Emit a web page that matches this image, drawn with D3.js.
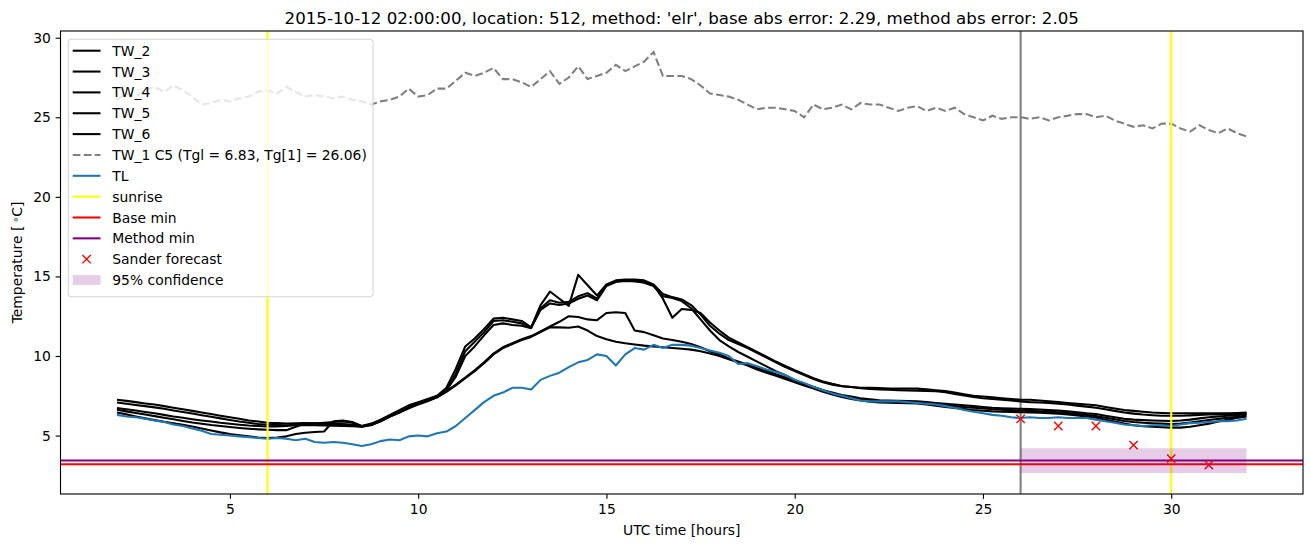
<!DOCTYPE html>
<html><head><meta charset="utf-8">
<script src="https://cdn.jsdelivr.net/npm/d3@7"></script>
<style>body{margin:0;background:#fff}svg{display:block}text{font-family:"DejaVu Sans",sans-serif;fill:#000}</style>
</head><body><svg id="c" width="1310" height="547"></svg>
<script>
// ---- data ----
const hours = d3.range(0, 121).map(i => 2 + i * 0.25); // sample times [h]
const TW_2 = [7.25,7.18,7.1,7.02,6.95,6.85,6.75,6.65, 6.55,6.45,6.35,6.25,6.15,6.05,5.95,5.88,
 5.8,5.78,5.76,5.77,5.78,5.77,5.75,5.74, 5.72,5.68,5.6,5.75,6.0,6.3,6.6,6.9,
 7.1,7.3,7.5,8.0,9.2,10.6,11.1,11.7, 12.35,12.4,12.3,12.2,11.8,13.2,14.05,13.6,
 13.15,15.1,14.45,13.8,14.5,14.75,14.8,14.8, 14.75,14.5,13.9,13.7,13.55,13.2,12.6,11.9,
 11.4,11.0,10.75,10.5,10.2,9.9,9.6,9.3, 9.05,8.8,8.55,8.35,8.2,8.1,8.05,8.0,
 8.0,7.98,7.95,7.95,7.95,7.95,7.9,7.85, 7.8,7.7,7.6,7.5,7.45,7.4,7.35,7.3,
 7.25,7.25,7.2,7.15,7.1,7.05,7.0,6.95, 6.9,6.8,6.7,6.6,6.55,6.5,6.45,6.42,
 6.4,6.4,6.4,6.4,6.4,6.4,6.4,6.42, 6.45];
const TW_3 = [7.08,7.0,6.92,6.85,6.77,6.68,6.58,6.48, 6.38,6.28,6.18,6.08,5.98,5.88,5.8,5.73,
 5.68,5.66,5.65,5.68,5.72,5.76,5.8,5.85, 5.88,5.8,5.58,5.7,5.95,6.25,6.55,6.85,
 7.05,7.25,7.45,7.85,8.7,10.0,10.6,11.3, 11.95,12.05,11.95,11.9,11.75,12.9,13.3,13.2,
 13.3,13.6,13.8,13.5,14.4,14.65,14.75,14.7, 14.65,14.45,13.6,12.4,12.95,12.9,12.7,12.1,
 11.6,11.15,10.85,10.55,10.25,9.95,9.65,9.38, 9.1,8.85,8.6,8.4,8.25,8.12,8.05,7.97,
 7.93,7.9,7.88,7.85,7.83,7.82,7.8,7.78, 7.72,7.62,7.52,7.42,7.35,7.3,7.25,7.2,
 7.15,7.1,7.08,7.05,7.0,6.95,6.88,6.82, 6.75,6.65,6.55,6.45,6.38,6.32,6.28,6.25,
 6.25,6.25,6.27,6.3,6.32,6.33,6.35,6.35, 6.38];
const TW_4 = [6.73,6.65,6.57,6.48,6.4,6.3,6.2,6.12, 6.03,5.95,5.88,5.8,5.74,5.68,5.63,5.6,
 5.57,5.57,5.6,5.65,5.66,5.65,5.64,5.62, 5.6,5.58,5.55,5.65,5.9,6.2,6.45,6.75,
 7.0,7.2,7.4,7.8,8.9,10.3,10.9,11.5, 12.2,12.25,12.15,12.05,11.8,13.0,13.5,13.35,
 13.4,13.75,13.95,13.6,14.45,14.7,14.72,14.7, 14.6,14.4,13.75,13.65,13.45,13.0,12.3,11.6,
 11.0,10.6,10.25,9.95,9.65,9.35,9.05,8.8, 8.5,8.25,8.05,7.85,7.7,7.55,7.45,7.35,
 7.28,7.22,7.2,7.18,7.17,7.15,7.1,7.05, 7.0,6.95,6.9,6.85,6.8,6.75,6.72,6.7,
 6.68,6.66,6.64,6.6,6.57,6.52,6.47,6.4, 6.35,6.25,6.15,6.05,6.0,5.97,5.95,5.93,
 5.92,5.95,6.0,6.08,6.15,6.2,6.25,6.28, 6.35];
const TW_5 = [6.62,6.52,6.42,6.32,6.22,6.12,6.02,5.92, 5.82,5.74,5.66,5.6,5.54,5.48,5.43,5.39,
 5.36,5.34,5.34,5.55,5.75,5.75,5.74,5.72, 5.7,5.65,5.55,5.7,5.95,6.25,6.5,6.8,
 7.0,7.2,7.45,7.8,8.2,8.65,9.1,9.6, 10.15,10.55,10.8,11.05,11.25,11.55,11.85,12.15,
 12.5,12.45,12.3,12.25,12.7,12.75,12.7,11.6, 11.5,11.3,11.1,11.0,10.9,10.75,10.55,10.3,
 10.1,9.85,9.65,9.45,9.25,9.05,8.85,8.65, 8.45,8.25,8.05,7.85,7.65,7.5,7.38,7.28,
 7.2,7.15,7.12,7.1,7.08,7.05,7.0,6.95, 6.9,6.85,6.8,6.75,6.7,6.65,6.62,6.6,
 6.57,6.55,6.53,6.5,6.47,6.42,6.36,6.3, 6.22,6.12,6.02,5.92,5.85,5.8,5.77,5.75,
 5.72,5.75,5.82,5.9,5.98,6.05,6.12,6.18, 6.25];
const TW_6 = [6.45,6.33,6.2,6.08,5.97,5.87,5.77,5.67, 5.57,5.45,5.32,5.2,5.1,5.02,4.95,4.88,
 4.84,4.88,4.95,5.1,5.18,5.22,5.26,5.9, 5.95,5.85,5.6,5.68,5.9,6.2,6.45,6.72,
 6.95,7.15,7.4,7.75,8.15,8.6,9.05,9.55, 10.1,10.5,10.75,11.0,11.2,11.5,11.8,11.8,
 11.78,11.85,11.6,11.25,11.05,10.9,10.8,10.72, 10.65,10.6,10.55,10.5,10.45,10.4,10.3,10.15,
 10.0,9.8,9.6,9.4,9.15,8.95,8.75,8.55, 8.35,8.15,7.95,7.75,7.58,7.43,7.3,7.2,
 7.12,7.08,7.06,7.05,7.04,7.02,6.95,6.88, 6.8,6.73,6.66,6.6,6.56,6.52,6.5,6.48,
 6.47,6.45,6.43,6.4,6.37,6.33,6.27,6.2, 6.12,6.0,5.88,5.75,5.65,5.58,5.55,5.52,
 5.5,5.5,5.55,5.65,5.75,5.88,6.0,6.1, 6.2];
const TW_1 = [26.1,26.5,26.3,26.7,26.9,26.6,27.0,26.7, 26.3,25.8,25.9,26.1,26.0,26.2,26.3,26.6,
 26.7,26.5,26.9,26.6,26.3,26.4,26.3,26.2, 26.3,26.1,26.0,25.8,26.0,26.1,26.3,26.8,
 26.3,26.4,26.8,26.8,27.3,27.8,27.6,27.8, 28.1,27.4,27.4,27.2,26.9,27.4,27.9,27.1,
 27.5,28.2,27.4,27.6,27.8,28.3,27.9,28.2, 28.5,29.1,27.6,27.6,27.6,27.4,27.0,26.5,
 26.4,26.3,26.1,25.8,25.5,25.6,25.6,25.5, 25.4,25.0,25.8,25.5,25.6,25.8,25.5,25.9,
 25.8,25.8,25.6,25.4,25.6,25.7,25.4,25.6, 25.4,25.6,25.2,25.0,24.8,25.1,24.9,25.0,
 25.0,24.9,25.0,24.8,25.0,25.1,25.2,25.2, 25.0,25.1,24.8,24.6,24.4,24.5,24.3,24.6,
 24.6,24.3,24.1,24.5,24.2,24.0,24.3,24.0, 23.8];
const TL = [6.3,6.2,6.15,6.05,5.95,5.85,5.7,5.6, 5.45,5.3,5.1,5.05,5.0,4.95,4.9,4.85,
 4.8,4.85,4.8,4.7,4.8,4.6,4.55,4.6, 4.55,4.45,4.35,4.45,4.65,4.75,4.7,4.95,
 5.0,4.95,5.15,5.25,5.6,6.1,6.6,7.1, 7.5,7.7,8.0,8.0,7.9,8.5,8.75,8.95,
 9.3,9.6,9.75,10.1,10.0,9.4,10.1,10.5, 10.4,10.7,10.5,10.7,10.7,10.65,10.5,10.35,
 10.2,10.0,9.5,9.55,9.35,9.15,9.0,8.8, 8.5,8.3,8.05,7.85,7.65,7.5,7.35,7.2,
 7.15,7.15,7.15,7.15,7.1,7.05,7.0,6.95, 6.85,6.75,6.6,6.5,6.4,6.3,6.25,6.15,
 6.1,6.15,6.1,6.1,6.15,6.1,6.1,6.1, 6.0,5.9,5.8,5.7,5.65,5.6,5.65,5.65,
 5.6,5.7,5.78,5.8,5.85,5.9,5.9,5.95, 6.05];
const sunriseHours = [6, 30];
const forecastHour = [26];
const baseMin = 3.2;
const methodMin = 3.43;
const confHours = [26, 32];
const confLow = [2.65, 2.65];
const confHigh = [4.21, 4.21];
const sanderHours = [26, 27, 28, 29, 30, 31];
const sanderTemps = [6.05, 5.6, 5.6, 4.4, 3.55, 3.15];
const xTicks = [5, 10, 15, 20, 25, 30];
const yTicks = [5, 10, 15, 20, 25, 30];
const blackNames = ["TW_2", "TW_3", "TW_4", "TW_5", "TW_6"];
const blackSeries = [TW_2, TW_3, TW_4, TW_5, TW_6];
const titleText = "2015-10-12 02:00:00, location: 512, method: 'elr', base abs error: 2.29, method abs error: 2.05";

// ---- layout ----
const M = {left: 60.5, right: 1303, top: 31, bottom: 494};
const FS = 13.89, LW = 2.08;
const svg = d3.select("#c");
svg.append("rect").attr("width", 1310).attr("height", 547).attr("fill", "#fff");

const allX = hours.concat(confHours, sanderHours);
const allY = [].concat(...blackSeries, TW_1, TL, confLow, confHigh, sanderTemps, [baseMin, methodMin]);
const [x0, x1] = d3.extent(allX), [y0, y1] = d3.extent(allY);
const xp = (x1 - x0) * 0.05, yp = (y1 - y0) * 0.05;
const x = d3.scaleLinear().domain([x0 - xp, x1 + xp]).range([M.left, M.right]);
const y = d3.scaleLinear().domain([y0 - yp, y1 + yp]).range([M.bottom, M.top]);

svg.append("defs").append("clipPath").attr("id", "clip").append("rect")
  .attr("x", M.left).attr("y", M.top).attr("width", M.right - M.left).attr("height", M.bottom - M.top);
const g = svg.append("g").attr("clip-path", "url(#clip)");

// forecast start line
g.selectAll(".fc").data(forecastHour).join("line")
  .attr("x1", d => x(d)).attr("x2", d => x(d)).attr("y1", M.top).attr("y2", M.bottom)
  .attr("stroke", "#808080").attr("stroke-width", LW);

const line = d3.line().x((d, i) => x(hours[i])).y(d => y(d));
g.selectAll(".tw").data(blackSeries).join("path")
  .attr("d", line).attr("fill", "none").attr("stroke", "#000").attr("stroke-width", LW)
  .attr("stroke-linejoin", "round");
g.append("path").attr("d", line(TW_1)).attr("fill", "none").attr("stroke", "#808080")
  .attr("stroke-width", LW).attr("stroke-dasharray", "7.7,3.33");
g.append("path").attr("d", line(TL)).attr("fill", "none").attr("stroke", "#1f77b4")
  .attr("stroke-width", LW).attr("stroke-linejoin", "round");

g.selectAll(".sr").data(sunriseHours).join("line")
  .attr("x1", d => x(d)).attr("x2", d => x(d)).attr("y1", M.top).attr("y2", M.bottom)
  .attr("stroke", "#ffff00").attr("stroke-width", LW);
g.append("line").attr("x1", M.left).attr("x2", M.right).attr("y1", y(baseMin)).attr("y2", y(baseMin))
  .attr("stroke", "#ff0000").attr("stroke-width", LW);
g.append("line").attr("x1", M.left).attr("x2", M.right).attr("y1", y(methodMin)).attr("y2", y(methodMin))
  .attr("stroke", "#800080").attr("stroke-width", LW);

const xm = 4.17;
const xPath = (cx, cy) => `M${cx - xm},${cy - xm}L${cx + xm},${cy + xm}M${cx - xm},${cy + xm}L${cx + xm},${cy - xm}`;
g.selectAll(".sf").data(sanderHours).join("path")
  .attr("d", (d, i) => xPath(x(d), y(sanderTemps[i])))
  .attr("stroke", "#ff0000").attr("stroke-width", 1.39).attr("fill", "none");

const area = d3.area().x(d => x(d)).y0((d, i) => y(confLow[i])).y1((d, i) => y(confHigh[i]));
g.append("path").attr("d", area(confHours)).attr("fill", "#800080").attr("fill-opacity", 0.2);

// ---- axes ----
const xa = svg.append("g").attr("transform", `translate(0,${M.bottom})`)
  .call(d3.axisBottom(x).tickValues(xTicks).tickSize(4.86).tickPadding(4.86).tickFormat(d3.format("d")));
const ya = svg.append("g").attr("transform", `translate(${M.left},0)`)
  .call(d3.axisLeft(y).tickValues(yTicks).tickSize(4.86).tickPadding(4.86).tickFormat(d3.format("d")));
[xa, ya].forEach(a => {
  a.select(".domain").remove();
  a.selectAll("line").attr("stroke", "#000").attr("stroke-width", 1.11);
  a.selectAll("text").attr("font-family", "DejaVu Sans").attr("font-size", FS).attr("fill", "#000");
});
svg.append("rect").attr("x", M.left).attr("y", M.top).attr("width", M.right - M.left)
  .attr("height", M.bottom - M.top).attr("fill", "none").attr("stroke", "#000").attr("stroke-width", 1.11);

const cx = (M.left + M.right) / 2;
svg.append("text").attr("x", cx).attr("y", 24).attr("text-anchor", "middle")
  .attr("font-size", 16.67).text(titleText);
svg.append("text").attr("x", cx).attr("y", 535).attr("text-anchor", "middle")
  .attr("font-size", FS).text("UTC time [hours]");
const yl = svg.append("text").attr("transform", `translate(22,${(M.top + M.bottom) / 2}) rotate(-90)`)
  .attr("text-anchor", "middle").attr("font-size", FS);
yl.append("tspan").text("Temperature [\u2009");
yl.append("tspan").attr("font-size", FS * 0.7).attr("baseline-shift", "35%").text("\u2218");
yl.append("tspan").text("C]");

// ---- legend ----
const L = svg.append("g");
L.append("rect").attr("x", 68.3).attr("y", 39.3).attr("width", 304.7).attr("height", 257.4)
  .attr("rx", 3.5).attr("fill", "#fff").attr("fill-opacity", 0.8)
  .attr("stroke", "#cccccc").attr("stroke-opacity", 0.8).attr("stroke-width", 1.11);
const entries = blackNames.map(n => ({label: n, type: "line", color: "#000"})).concat([
  {label: "TW_1 C5 (Tgl = 6.83, Tg[1] = 26.06)", type: "dash", color: "#808080"},
  {label: "TL", type: "line", color: "#1f77b4"},
  {label: "sunrise", type: "line", color: "#ffff00"},
  {label: "Base min", type: "line", color: "#ff0000"},
  {label: "Method min", type: "line", color: "#800080"},
  {label: "Sander forecast", type: "marker", color: "#ff0000"},
  {label: "95% confidence", type: "patch", color: "#800080"}
]);
entries.forEach((e, i) => {
  const cy = 50.7 + 20.85 * i;
  if (e.type === "line" || e.type === "dash") {
    const l = L.append("line").attr("x1", 72.7).attr("x2", 100.5).attr("y1", cy).attr("y2", cy)
      .attr("stroke", e.color).attr("stroke-width", LW);
    if (e.type === "dash") l.attr("stroke-dasharray", "7.7,3.33");
  } else if (e.type === "marker") {
    L.append("path").attr("d", xPath(86.6, cy)).attr("stroke", e.color).attr("stroke-width", 1.39);
  } else {
    L.append("rect").attr("x", 72.7).attr("y", cy - 4.9).attr("width", 27.8).attr("height", 9.7)
      .attr("fill", e.color).attr("fill-opacity", 0.2);
  }
  L.append("text").attr("x", 112.3).attr("y", cy + 5).attr("font-size", FS).text(e.label);
});
</script></body></html>
